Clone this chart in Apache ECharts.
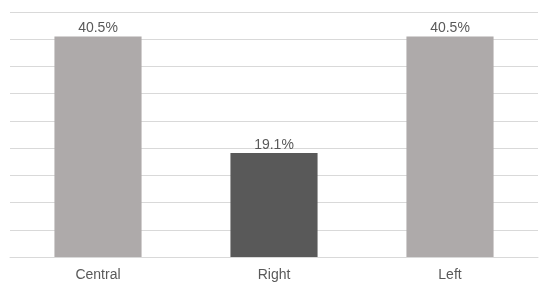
<!DOCTYPE html>
<html>
<head>
<meta charset="utf-8">
<script src="https://cdn.jsdelivr.net/npm/echarts@6/dist/echarts.min.js"></script>
<style>
  html, body { margin: 0; padding: 0; background: #fff; }
  #chart { width: 550px; height: 290px; }
</style>
</head>
<body>
<div id="chart"></div>
<script>
const categories = ["Central", "Right", "Left"];
const values = [40.5, 19.1, 40.5];
const barColors = ["#AEAAAA", "#595959", "#AEAAAA"];

const chart = echarts.init(document.getElementById("chart"));

const option = {
  animation: false,
  grid: { left: 10, right: 12, top: 12, bottom: 33 },
  xAxis: {
    type: "category",
    data: categories,
    axisTick: { show: false },
    axisLine: { lineStyle: { color: "#d9d9d9" } },
    axisLabel: {
      color: "#595959",
      fontSize: 14,
      fontFamily: "Liberation Sans, Arial",
      margin: 11,
    },
  },
  yAxis: {
    type: "value",
    min: 0,
    max: 45,
    interval: 5,
    axisLabel: { show: false },
    axisLine: { show: false },
    axisTick: { show: false },
    splitLine: { lineStyle: { color: "#d9d9d9" } },
  },
  series: [
    {
      type: "bar",
      barWidth: "49.5%",
      data: values.map((v, i) => ({
        value: v,
        itemStyle: { color: barColors[i] },
      })),
      label: {
        show: true,
        position: "top",
        distance: 1,
        color: "#595959",
        fontSize: 14,
        fontFamily: "Liberation Sans, Arial",
        formatter: (p) => p.value.toFixed(1) + "%",
      },
    },
  ],
};

chart.setOption(option);
</script>
</body>
</html>
